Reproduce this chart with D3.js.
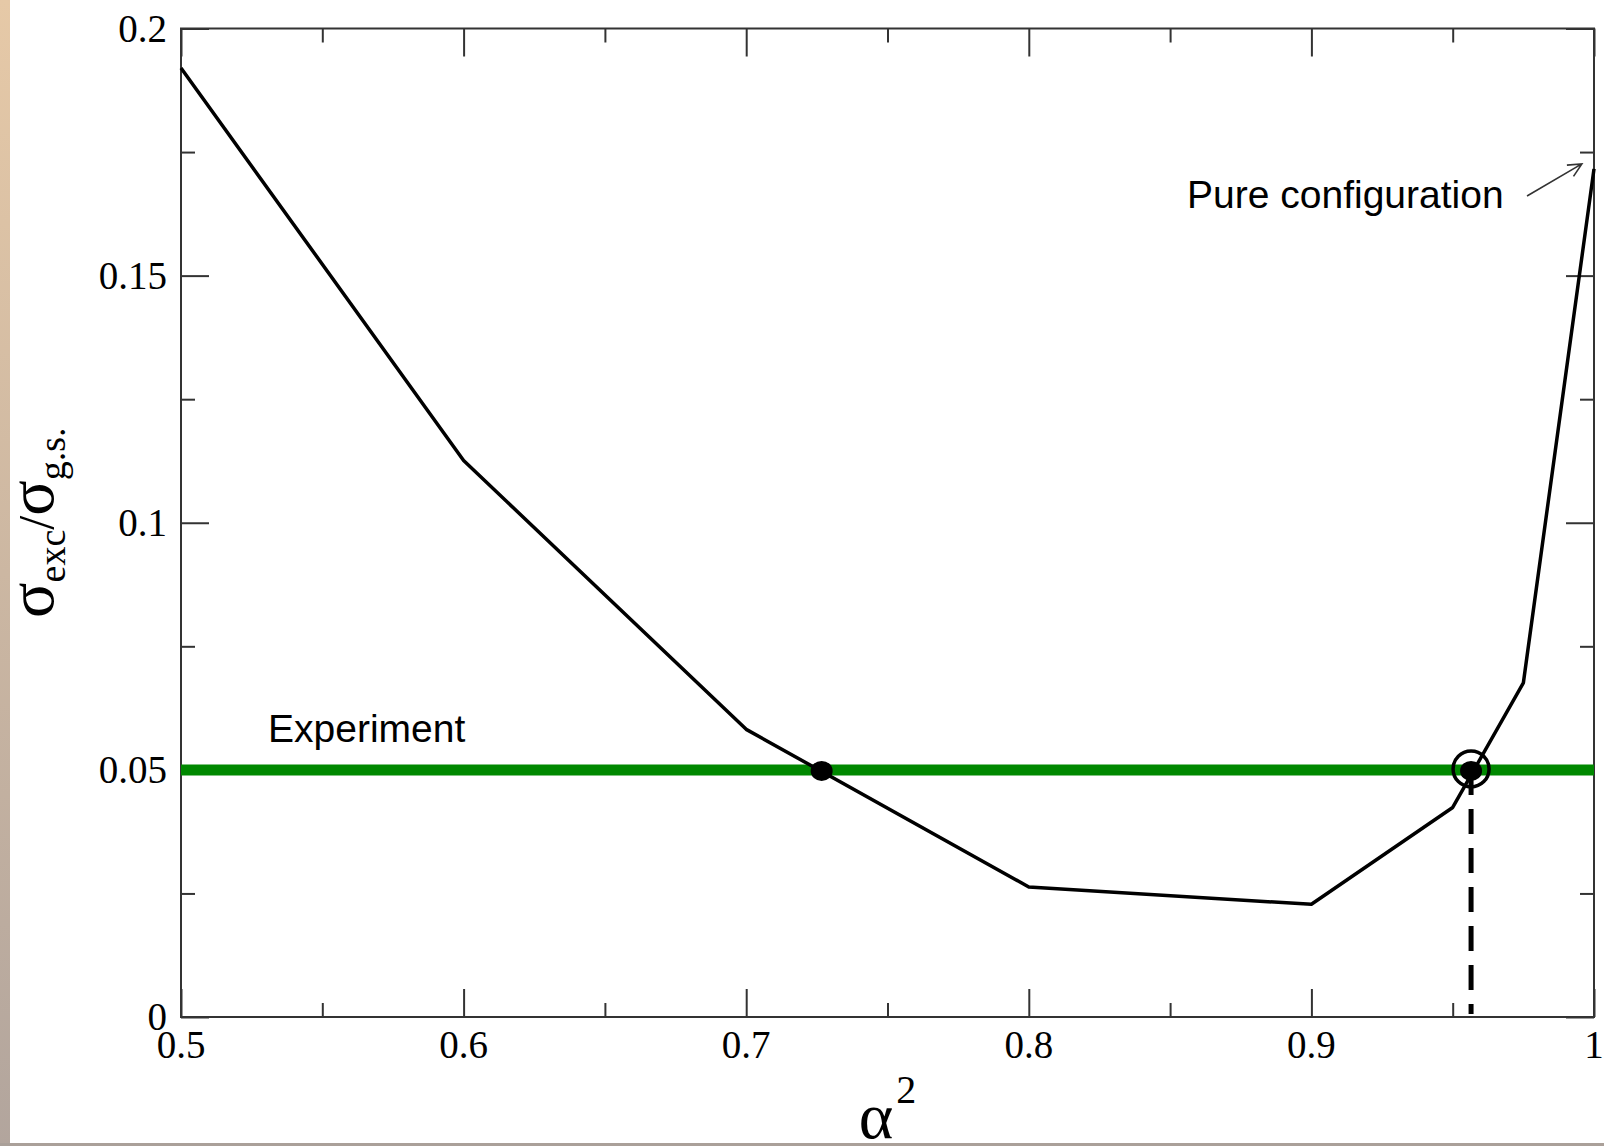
<!DOCTYPE html>
<html>
<head>
<meta charset="utf-8">
<script src="https://cdn.jsdelivr.net/npm/d3@7"></script>
<style>
  html, body { margin: 0; padding: 0; background: #fff; }
  svg { display: block; }
</style>
</head>
<body>
<div id="chart"></div>
<script>
// Data
var alpha2 = [0.5, 0.6, 0.7, 0.8, 0.9, 0.95, 0.975, 1.0];
var ratio = [0.192, 0.1126, 0.0582, 0.0263, 0.0228, 0.0424, 0.0676, 0.1716];
var experiment = 0.05;
var crossings = [0.7267, 0.9565];
var xTicks = [0.5, 0.6, 0.7, 0.8, 0.9, 1.0];
var xMinor = [0.55, 0.65, 0.75, 0.85, 0.95];
var yTicks = [0, 0.05, 0.1, 0.15, 0.2];
var yMinor = [0.025, 0.075, 0.125, 0.175];

// Dimensions
var W = 1604, H = 1146;
var margin = {top: 28.5, right: 10, bottom: 129, left: 181},
    width = W - margin.left - margin.right,
    height = H - margin.top - margin.bottom;

var root = d3.select("#chart").append("svg")
    .attr("width", W)
    .attr("height", H);

// page edge strips (left tan, bottom grey)
var grad = root.append("defs").append("linearGradient")
    .attr("id", "edge").attr("x1", 0).attr("y1", 0).attr("x2", 0).attr("y2", 1);
grad.append("stop").attr("offset", "0%").attr("stop-color", "#e6c9a7");
grad.append("stop").attr("offset", "100%").attr("stop-color", "#b2a59d");
root.append("rect").attr("x", 0).attr("y", 0).attr("width", 10).attr("height", H).attr("fill", "url(#edge)");
root.append("rect").attr("x", 0).attr("y", H - 3).attr("width", W).attr("height", 3).attr("fill", "#aaa099");

var svg = root.append("g")
    .attr("transform", "translate(" + margin.left + "," + margin.top + ")");

var x = d3.scaleLinear().domain([0.5, 1.0]).range([0, width]);
var y = d3.scaleLinear().domain([0, 0.2]).range([height, 0]);

// axes: ticks pointing inward on all four sides
function styleAxis(g) {
    g.select(".domain").remove();
    g.selectAll("line").attr("stroke", "#333").attr("stroke-width", 2);
}
var fmt = function (d) { return d3.format("~g")(d); };

svg.append("g")
    .attr("transform", "translate(0," + height + ")")
    .call(d3.axisTop(x).tickValues(xTicks).tickSize(28).tickFormat(""))
    .call(styleAxis);
svg.append("g")
    .attr("transform", "translate(0," + height + ")")
    .call(d3.axisTop(x).tickValues(xMinor).tickSize(14).tickFormat(""))
    .call(styleAxis);
svg.append("g")
    .call(d3.axisBottom(x).tickValues(xTicks).tickSize(28).tickFormat(""))
    .call(styleAxis);
svg.append("g")
    .call(d3.axisBottom(x).tickValues(xMinor).tickSize(14).tickFormat(""))
    .call(styleAxis);
svg.append("g")
    .call(d3.axisRight(y).tickValues(yTicks).tickSize(28).tickFormat(""))
    .call(styleAxis);
svg.append("g")
    .call(d3.axisRight(y).tickValues(yMinor).tickSize(14).tickFormat(""))
    .call(styleAxis);
svg.append("g")
    .attr("transform", "translate(" + width + ",0)")
    .call(d3.axisLeft(y).tickValues(yTicks).tickSize(28).tickFormat(""))
    .call(styleAxis);
svg.append("g")
    .attr("transform", "translate(" + width + ",0)")
    .call(d3.axisLeft(y).tickValues(yMinor).tickSize(14).tickFormat(""))
    .call(styleAxis);

// tick labels
svg.selectAll("text.xlab")
    .data(xTicks).enter().append("text")
    .attr("class", "xlab")
    .attr("x", function (d) { return x(d); })
    .attr("y", height + 41)
    .attr("text-anchor", "middle")
    .style("font-family", "'Liberation Serif', serif")
    .style("font-size", "39px")
    .text(fmt);
svg.selectAll("text.ylab")
    .data(yTicks).enter().append("text")
    .attr("class", "ylab")
    .attr("x", -14)
    .attr("y", function (d) { return y(d) + 13; })
    .attr("text-anchor", "end")
    .style("font-family", "'Liberation Serif', serif")
    .style("font-size", "39px")
    .text(fmt);

// frame
svg.append("rect")
    .attr("width", width).attr("height", height)
    .attr("fill", "none").attr("stroke", "#333").attr("stroke-width", 2);

// experiment line
svg.append("line")
    .attr("x1", x(0.5)).attr("x2", x(1.0))
    .attr("y1", y(experiment)).attr("y2", y(experiment))
    .attr("stroke", "#008800").attr("stroke-width", 11);

// calculated curve
var pts = alpha2.map(function (a, i) { return [a, ratio[i]]; });
svg.append("path")
    .datum(pts)
    .attr("fill", "none")
    .attr("stroke", "#000")
    .attr("stroke-width", 3.5)
    .attr("stroke-linejoin", "round")
    .attr("d", d3.line().x(function (d) { return x(d[0]); }).y(function (d) { return y(d[1]); }));

// dashed drop line from the chosen crossing
svg.append("line")
    .attr("x1", x(crossings[1])).attr("x2", x(crossings[1]))
    .attr("y1", y(experiment)).attr("y2", y(0) - 3)
    .attr("stroke", "#000").attr("stroke-width", 5)
    .attr("stroke-dasharray", "25,14");

// crossing dots
svg.selectAll("ellipse.cross")
    .data(crossings).enter().append("ellipse")
    .attr("class", "cross")
    .attr("cx", function (d) { return x(d); })
    .attr("cy", y(experiment) + 1)
    .attr("rx", 11).attr("ry", 10)
    .attr("fill", "#000");
svg.append("circle")
    .attr("cx", x(crossings[1]))
    .attr("cy", y(experiment) - 1)
    .attr("r", 18)
    .attr("fill", "none")
    .attr("stroke", "#000")
    .attr("stroke-width", 3.5);

// annotations
svg.append("text")
    .attr("x", x(0.5308)).attr("y", y(0.0556))
    .style("font-family", "'Liberation Sans', Arial, sans-serif")
    .style("font-size", "39px")
    .text("Experiment");
svg.append("text")
    .attr("x", x(0.856)).attr("y", y(0.1637))
    .style("font-family", "'Liberation Sans', Arial, sans-serif")
    .style("font-size", "39px")
    .text("Pure configuration");

var ax0 = x(0.9763), ay0 = y(0.1661), ax1 = x(0.9957), ay1 = y(0.1726);
var ang = Math.atan2(ay1 - ay0, ax1 - ax0), hl = 15, ha = 0.45;
svg.append("path")
    .attr("fill", "none").attr("stroke", "#333").attr("stroke-width", 1.6)
    .attr("d", "M" + ax0 + "," + ay0 + "L" + ax1 + "," + ay1 +
        "M" + (ax1 - hl * Math.cos(ang - ha)) + "," + (ay1 - hl * Math.sin(ang - ha)) +
        "L" + ax1 + "," + ay1 +
        "L" + (ax1 - hl * Math.cos(ang + ha)) + "," + (ay1 - hl * Math.sin(ang + ha)));

// axis titles
var xt = root.append("text")
    .attr("x", margin.left + width / 2)
    .attr("y", 1138)
    .attr("text-anchor", "middle")
    .style("font-family", "'Liberation Serif', serif");
xt.append("tspan").style("font-size", "66px").text("α");
xt.append("tspan").style("font-size", "40px").attr("dy", -35).attr("dx", 3).text("2");

var yt = root.append("text")
    .attr("transform", "translate(53," + (margin.top + height / 2) + ") rotate(-90)")
    .attr("text-anchor", "middle")
    .style("font-family", "'Liberation Serif', serif");
yt.append("tspan").style("font-size", "66px").text("σ");
yt.append("tspan").style("font-size", "38px").attr("dy", 12).text("exc");
yt.append("tspan").style("font-size", "50px").attr("dy", -12).text("/");
yt.append("tspan").style("font-size", "66px").text("σ");
yt.append("tspan").style("font-size", "38px").attr("dy", 12).text("g.s.");
</script>
</body>
</html>
